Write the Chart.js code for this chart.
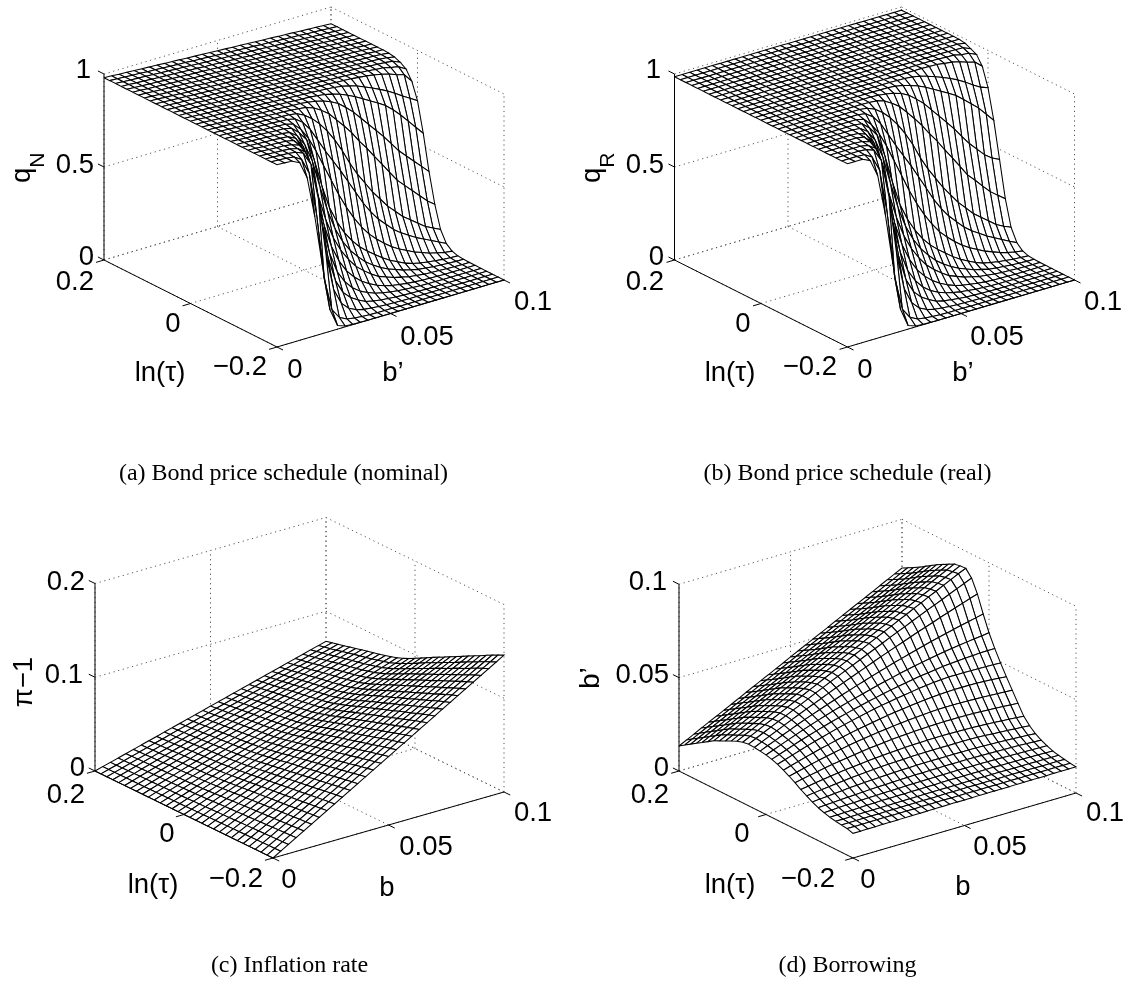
<!DOCTYPE html>
<html>
<head>
<meta charset="utf-8">
<title>Bond price, inflation and borrowing surfaces</title>
<script src="https://cdn.jsdelivr.net/npm/chart.js"></script>
<style>
html, body { margin: 0; padding: 0; background: #fff; }
#page { position: relative; width: 1126px; height: 994px; overflow: hidden; }
canvas { position: absolute; }
.caption { position: absolute; width: 563px; text-align: center; font: 24px "Liberation Serif", serif; color: #000; }
</style>
</head>
<body>
<div id="page">
<canvas id="graphA" width="563" height="497" style="left:0;top:0"></canvas>
<canvas id="graphB" width="563" height="497" style="left:563px;top:0"></canvas>
<canvas id="graphC" width="563" height="497" style="left:0;top:497px"></canvas>
<canvas id="graphD" width="563" height="497" style="left:563px;top:497px"></canvas>
<div class="caption" style="left:2px;top:459px">(a) Bond price schedule (nominal)</div>
<div class="caption" style="left:566px;top:459px">(b) Bond price schedule (real)</div>
<div class="caption" style="left:8px;top:951px">(c) Inflation rate</div>
<div class="caption" style="left:566px;top:951px">(d) Borrowing</div>
</div>
<script>
// axes of every panel
var bGrid = [0,.00333,.00667,.01,.01333,.01667,.02,.02333,.02667,.03,.03333,.03667,.04,.04333,.04667,.05,.05333,.05667,.06,.06333,.06667,.07,.07333,.07667,.08,.08333,.08667,.09,.09333,.09667,.1]
var tauGrid = [.2,.18667,.17333,.16,.14667,.13333,.12,.10667,.09333,.08,.06667,.05333,.04,.02667,.01333,0,-.01333,-.02667,-.04,-.05333,-.06667,-.08,-.09333,-.10667,-.12,-.13333,-.14667,-.16,-.17333,-.18667,-.2]
var bTicks = [0, .05, .1]
var bTickLabels = ['0', '0.05', '0.1']
var tauTicks = [.2, 0, -.2]
var tauTickLabels = ['0.2', '0', '\u22120.2']
var qTicks = [0, .5, 1]
var qTickLabels = ['0', '0.5', '1']
var piTicks = [0, .1, .2]
var piTickLabels = ['0', '0.1', '0.2']
var bpTicks = [0, .05, .1]
var bpTickLabels = ['0', '0.05', '0.1']

// rows run from tau = 0.2 to tau = -0.2, columns from b = 0 to b = 0.1
// q values in thousandths
var qNominalFlat = [980,978,975,973,971,968,966,964,961,959,957,954,952,950,947,945,943,940,938,936,933,931,929,926,924,922,919,917,915,912,910]
var qNominal = [
qNominalFlat,qNominalFlat,qNominalFlat,qNominalFlat,qNominalFlat,qNominalFlat,qNominalFlat,qNominalFlat,qNominalFlat,qNominalFlat,
[980,978,975,973,971,968,966,964,961,959,957,954,952,950,947,945,943,940,938,936,933,931,929,926,924,922,919,917,915,912,908],
[980,978,975,973,971,968,966,964,961,959,957,954,952,950,947,945,943,940,938,936,933,931,929,926,924,922,919,917,915,911,903],
[980,978,975,973,971,968,966,964,961,959,957,954,952,950,947,945,943,940,938,936,933,931,929,926,924,922,918,915,912,907,890],
[980,978,975,973,971,968,966,964,961,959,957,954,952,950,947,945,943,940,938,936,933,931,929,926,923,920,915,912,901,894,870],
[980,978,975,973,971,968,966,964,961,959,957,954,952,950,947,945,943,940,938,936,933,931,928,924,920,913,905,894,878,866,820],
[980,978,975,973,971,968,966,964,961,959,957,954,952,950,947,945,943,940,937,933,928,918,905,888,870,851,830,806,780,755,730],
[980,978,975,973,971,968,966,964,961,959,957,954,952,950,947,945,940,935,925,912,895,875,852,828,805,780,745,705,660,615,570],
[980,978,975,973,971,968,966,964,961,959,957,954,952,950,945,938,928,912,890,857,820,775,730,685,640,590,540,500,460,420,380],
[980,978,975,973,971,968,966,964,961,959,957,954,950,945,930,905,875,830,785,737,680,630,574,520,465,410,370,330,290,250,220],
[980,978,975,973,971,968,966,964,961,959,957,950,930,900,860,810,750,680,600,530,470,410,360,310,270,230,200,170,140,120,100],
[980,978,975,973,971,968,966,964,961,959,950,920,870,800,730,665,600,530,460,390,330,280,240,200,170,145,120,100,80,60,40],
[980,978,975,973,971,968,966,964,961,950,910,850,770,680,590,500,420,350,290,240,200,165,135,110,90,70,55,40,30,20,15],
[980,978,975,973,971,968,966,964,955,920,870,750,600,470,380,310,255,210,175,145,115,90,70,50,36,27,20,15,10,7,5],
[980,978,975,973,971,968,966,960,930,870,770,620,480,370,290,230,185,145,115,90,70,55,40,30,20,15,10,7,5,3,2],
[980,978,975,973,971,968,965,945,890,780,600,460,350,270,210,160,125,95,70,55,40,30,20,15,10,7,5,3,2,1,1],
[980,978,975,973,971,968,960,920,820,640,460,330,240,175,130,95,70,50,35,25,18,12,8,5,3,2,1,1,1,1,1],
[980,978,975,973,971,965,950,885,720,490,320,210,145,100,70,50,35,25,17,12,8,5,3,2,1,0,0,0,0,0,0],
[980,978,975,973,970,960,930,820,570,330,190,115,75,50,30,20,14,10,6,4,2,1,0,0,0,0,0,0,0,0,0],
[980,978,975,973,968,950,880,680,370,170,85,45,25,15,10,6,4,2,1,0,0,0,0,0,0,0,0,0,0,0,0],
[980,978,975,970,945,860,620,270,90,35,15,8,4,2,1,0,0,0,0,0,0,0,0,0,0,0,0,0,0,0,0],
[980,978,975,955,860,640,367,116,20,5,2,1,0,0,0,0,0,0,0,0,0,0,0,0,0,0,0,0,0,0,0]
]

var qRealFlat = [985,985,985,985,985,985,985,985,985,985,985,985,985,985,985,984,984,984,984,984,984,984,984,984,984,983,983,983,983,983,983]
var qReal = [
qRealFlat,qRealFlat,qRealFlat,qRealFlat,qRealFlat,qRealFlat,qRealFlat,qRealFlat,qRealFlat,qRealFlat,
[985,985,985,985,985,985,985,985,985,985,985,985,985,985,985,984,984,984,984,984,984,984,984,984,984,983,983,983,983,983,982],
[985,985,985,985,985,985,985,985,985,985,985,985,985,985,985,984,984,984,984,984,984,984,984,984,984,983,983,983,983,983,977],
[985,985,985,985,985,985,985,985,985,985,985,985,985,985,985,984,984,984,984,984,984,984,984,984,984,983,984,983,981,980,963],
[985,985,985,985,985,985,985,985,985,985,985,985,985,985,985,984,984,984,984,984,984,984,984,984,984,983,981,980,970,966,948],
[985,985,985,985,985,985,985,985,985,985,985,985,985,985,985,984,984,984,984,984,984,984,984,983,981,975,970,960,945,935,900],
[985,985,985,985,985,985,985,985,985,985,985,985,985,985,985,984,984,984,983,981,978,970,958,943,927,909,890,866,839,815,800],
[985,985,985,985,985,985,985,985,985,985,985,985,985,985,985,984,983,980,972,959,945,926,903,881,858,834,800,765,730,685,640],
[985,985,985,985,985,985,985,985,985,985,985,985,985,985,983,977,970,956,935,902,866,820,774,729,682,630,579,537,495,465,445],
[985,985,985,985,985,985,985,985,985,985,985,985,983,980,967,943,914,870,824,775,718,667,608,553,496,438,397,354,312,280,250],
[985,985,985,985,985,985,985,985,985,985,985,980,963,933,894,844,784,713,630,558,496,434,382,330,288,246,214,183,151,130,112],
[985,985,985,985,985,985,985,985,985,985,978,949,900,830,759,693,627,555,483,410,348,296,254,213,181,155,129,107,86,65,45],
[985,985,985,985,985,985,985,985,985,976,936,877,797,705,614,521,439,367,305,252,211,175,143,117,96,75,59,43,32,22,16],
[985,985,985,985,985,985,985,985,979,945,895,774,621,487,395,323,266,220,184,153,121,95,74,53,38,29,21,16,11,8,5],
[985,985,985,985,985,985,985,981,953,893,792,640,497,384,302,240,193,152,121,95,74,58,42,32,21,16,11,8,5,3,2],
[985,985,985,985,985,985,982,966,912,801,617,475,362,280,218,167,131,100,74,58,42,32,21,16,11,7,5,3,2,1,1],
[985,985,985,985,985,985,979,940,841,657,473,341,248,181,135,99,73,52,37,26,19,13,8,5,3,2,1,1,1,1,1],
[985,985,985,985,985,982,969,904,738,503,329,217,150,104,73,52,37,26,18,13,8,5,3,2,1,0,0,0,0,0,0],
[985,985,985,985,984,977,949,838,584,339,196,119,78,52,31,21,15,10,6,4,2,1,0,0,0,0,0,0,0,0,0],
[985,985,985,985,982,967,898,695,379,175,87,46,26,16,10,6,4,2,1,0,0,0,0,0,0,0,0,0,0,0,0],
[985,985,985,982,958,875,632,276,92,36,15,8,4,2,1,0,0,0,0,0,0,0,0,0,0,0,0,0,0,0,0],
[985,985,985,966,872,652,374,119,20,5,2,1,0,0,0,0,0,0,0,0,0,0,0,0,0,0,0,0,0,0,0]
]

// inflation and borrowing in ten-thousandths
var inflation = [
[0,23,45,68,91,113,136,159,181,204,227,249,272,295,317,340,363,385,408,431,453,476,499,521,544,567,589,612,635,657,680],
[0,23,46,70,93,116,139,162,185,209,232,255,278,301,324,348,371,394,417,440,463,487,510,533,556,579,602,626,649,672,695],
[0,24,47,71,95,118,142,166,189,213,237,260,284,308,331,355,379,402,426,450,473,497,521,544,568,592,615,639,663,686,710],
[0,24,48,73,97,121,145,169,193,218,242,266,290,314,338,363,387,411,435,459,483,508,532,556,580,604,628,653,677,701,725],
[0,25,49,74,99,124,148,173,198,223,247,272,297,322,346,371,396,420,445,470,495,519,544,569,594,618,643,668,693,717,742],
[0,25,51,76,101,126,152,177,202,227,253,278,303,328,354,379,404,429,455,480,505,531,556,581,606,632,657,682,707,733,758],
[0,26,52,78,103,129,155,181,207,233,258,284,310,336,362,388,413,439,465,491,517,543,568,594,620,646,672,698,723,749,775],
[0,26,53,79,105,132,158,184,211,237,263,290,316,342,369,395,421,448,474,500,527,553,579,606,632,658,685,711,737,764,790],
[0,27,54,81,107,134,161,188,215,242,268,295,322,349,376,403,429,456,483,510,537,564,590,617,644,671,698,725,751,778,805],
[0,27,55,82,109,137,164,191,219,246,273,301,328,355,383,410,437,465,492,519,547,574,601,629,656,683,711,738,765,793,820],
[0,28,56,84,112,140,168,196,223,251,279,307,335,363,391,419,447,475,503,531,559,587,615,642,670,698,726,754,782,810,838],
[0,29,57,86,114,143,171,200,228,257,285,314,342,371,399,428,456,485,513,542,570,599,627,656,684,713,741,770,798,827,855],
[0,29,58,88,117,146,175,204,233,263,292,321,350,379,408,438,467,496,525,554,583,613,642,671,700,729,758,788,817,846,875],
[0,30,60,90,120,150,180,210,240,270,300,330,360,390,420,450,480,510,540,570,600,630,660,690,720,750,780,810,840,870,900],
[0,31,62,93,124,155,186,217,248,279,310,341,372,403,434,465,496,527,558,589,620,651,682,713,744,775,806,837,868,899,930],
[0,32,64,96,128,160,192,224,257,289,321,353,385,417,449,481,513,545,577,609,641,673,705,737,770,802,834,866,898,930,962],
[0,33,66,100,133,166,199,232,265,299,332,365,398,431,464,498,531,564,597,630,663,697,730,763,796,829,862,896,929,962,995],
[0,34,69,103,137,172,206,240,275,309,343,378,412,446,481,515,549,584,618,652,687,721,755,790,824,858,893,927,961,996,1030],
[0,36,71,107,142,178,213,249,284,320,355,391,426,462,497,533,568,604,639,675,710,746,781,817,852,888,923,959,994,1030,1065],
[0,37,73,110,146,183,220,256,293,329,366,403,439,476,512,549,586,622,659,695,732,769,805,842,878,915,952,988,1025,1061,1098],
[0,38,75,113,151,188,226,264,301,339,377,414,452,490,527,565,603,640,678,716,753,791,829,866,904,942,979,1017,1055,1092,1130],
[0,39,78,117,155,194,233,272,311,350,388,427,466,505,544,583,621,660,699,738,777,816,854,893,932,971,1010,1049,1087,1126,1165],
[0,40,80,120,160,200,240,280,319,359,399,439,479,519,559,599,639,679,719,759,799,839,879,918,958,998,1038,1078,1118,1158,1198],
[0,41,82,123,164,205,246,287,328,369,410,451,492,533,574,615,656,697,738,779,820,861,902,943,984,1025,1066,1107,1148,1189,1230],
[0,42,84,127,169,211,253,295,337,380,422,464,506,548,590,633,675,717,759,801,843,886,928,970,1012,1054,1096,1139,1181,1223,1265],
[0,43,87,130,173,216,260,303,346,389,433,476,519,562,606,649,692,735,779,822,865,909,952,995,1038,1082,1125,1168,1211,1255,1298],
[0,44,89,133,177,222,266,310,355,399,443,488,532,576,621,665,709,754,798,842,887,931,975,1020,1064,1108,1153,1197,1241,1286,1330],
[0,46,91,137,182,228,273,319,364,410,455,501,546,592,637,683,728,774,819,865,910,956,1001,1047,1092,1138,1183,1229,1274,1320,1365],
[0,47,93,140,186,233,280,326,373,419,466,513,559,606,652,699,746,792,839,885,932,979,1025,1072,1118,1165,1212,1258,1305,1351,1398],
[0,48,95,143,191,238,286,334,381,429,477,524,572,620,667,715,763,810,858,906,953,1001,1049,1096,1144,1192,1239,1287,1335,1382,1430],
[0,49,97,146,195,243,292,341,389,438,487,535,584,633,681,730,779,827,876,925,973,1022,1071,1119,1168,1217,1265,1314,1363,1411,1460]
]

var borrowing = [
[134,154,174,195,215,235,255,275,295,316,336,356,376,396,416,437,457,477,497,517,537,558,578,598,618,638,658,679,699,719,739],
[155,175,195,215,235,255,275,295,315,335,355,375,395,415,435,456,476,496,516,536,556,576,596,616,636,656,676,696,716,736,756],
[175,195,215,235,255,275,295,315,334,354,374,394,414,434,454,474,494,514,534,554,574,594,613,633,653,673,693,713,733,753,773],
[195,215,235,254,274,294,314,334,354,374,393,413,433,453,473,493,512,532,552,572,592,612,631,651,671,691,711,730,750,770,790],
[215,235,255,274,294,314,334,354,374,394,413,433,453,473,493,513,532,552,572,592,612,632,651,671,691,711,731,750,770,790,810],
[235,255,275,294,314,334,354,374,394,414,433,453,473,493,513,533,552,572,592,612,632,652,671,691,711,731,751,770,790,810,830],
[255,275,295,314,334,354,374,394,414,434,453,473,493,513,533,553,572,592,612,632,652,672,691,711,731,751,771,790,810,830,850],
[270,290,310,330,350,370,389,409,429,449,469,489,509,529,549,569,588,608,628,648,668,688,708,728,748,768,787,807,827,847,867],
[285,305,325,345,365,385,405,425,445,465,485,504,524,544,564,584,604,624,644,664,684,704,724,744,764,784,803,823,843,863,884],
[300,320,340,360,380,400,420,440,460,480,500,520,540,560,580,600,620,640,660,680,700,720,740,760,780,800,820,840,860,880,900],
[315,335,354,374,394,414,433,453,473,492,512,532,551,571,591,611,630,650,670,689,709,729,748,768,788,808,827,847,867,886,906],
[325,345,364,384,403,423,442,462,481,501,520,540,559,579,598,618,637,657,676,696,715,735,754,774,793,813,832,852,871,891,908],
[330,349,368,387,405,424,443,461,480,499,517,536,554,572,590,608,626,644,662,680,698,715,733,750,768,785,802,820,837,854,871],
[328,346,364,382,400,418,435,452,469,486,503,520,536,552,568,584,600,616,631,646,661,676,691,705,719,734,748,762,775,789,802],
[324,341,357,374,390,407,423,438,453,468,482,497,510,524,537,550,563,575,588,599,611,622,633,644,654,664,674,683,692,701,710],
[319,334,350,365,380,395,409,423,436,449,461,473,484,495,506,517,527,536,546,555,563,571,579,586,593,599,605,610,615,620,625],
[311,325,339,354,368,381,394,406,418,429,440,450,460,470,479,488,496,504,511,518,525,530,536,541,545,548,551,553,555,556,556],
[300,313,326,339,352,364,375,387,398,408,418,427,436,445,453,460,467,473,479,485,490,495,498,500,500,500,499,498,497,496,494],
[284,296,307,319,330,341,350,360,369,378,386,393,400,407,414,420,425,430,435,439,443,446,448,449,449,449,448,446,444,440,436],
[267,277,287,297,306,315,323,331,339,346,352,358,363,368,373,377,381,384,387,390,392,393,393,392,391,390,388,386,384,382,380],
[248,256,264,272,280,287,293,299,305,311,316,320,324,328,331,334,336,338,340,341,342,342,342,341,340,338,336,334,331,328,325],
[227,233,240,246,252,258,263,267,271,275,279,282,285,287,289,291,292,293,294,294,294,293,292,291,289,287,284,281,278,275,271],
[208,213,218,222,227,232,236,239,242,245,248,250,252,253,255,256,256,257,257,257,257,257,256,255,253,250,248,245,242,239,236],
[191,195,198,202,205,209,211,214,216,218,220,222,223,224,225,226,226,226,226,226,226,226,225,224,222,221,219,217,215,212,209],
[176,179,181,184,186,188,190,192,194,195,197,198,199,200,200,201,201,202,202,202,202,201,201,200,199,198,197,196,194,192,190],
[165,167,169,171,172,174,175,176,177,178,179,180,181,181,182,182,183,183,183,183,183,183,182,182,181,180,179,178,177,176,175],
[156,157,158,159,160,162,163,164,164,165,165,166,166,167,167,168,168,168,168,168,168,168,168,167,167,166,166,165,165,164,163],
[150,150,151,151,152,152,153,153,154,154,155,155,155,156,156,156,156,156,157,157,157,157,157,156,156,156,156,156,156,155,155],
[146,146,146,147,147,147,148,148,148,149,149,149,149,149,150,150,150,150,150,150,150,150,150,150,150,150,149,149,149,149,149],
[142,142,142,142,143,143,143,143,143,143,144,144,144,144,144,144,144,144,144,144,144,144,144,144,144,144,144,144,144,144,144],
[132,132,133,133,134,134,134,135,135,135,136,136,136,137,137,137,137,138,138,138,138,138,139,139,139,139,139,140,140,140,140]
]

var panels = [
	{ canvas: 'graphA', left: 0, top: 0, origin: [104, 260], bVec: [227, -67], tauVec: [173, 87], zLen: 186,
		rows: qNominal, unit: 1000, zTicks: qTicks, zLabels: qTickLabels,
		zPos: [[94, 257], [94, 165], [91, 70]], tauPos: [[94, 282], [173, 324], [267, 367]], bPos: [[295, 370], [427, 337], [533, 302]],
		tauTitle: [160, 373], bTitle: ['b\u2019', 393, 373], zTitle: { main: 'q', sub: 'N', x: 30, y: 183 } },
	{ canvas: 'graphB', left: 563, top: 0, origin: [674.5, 260], bVec: [227, -67], tauVec: [173, 87], zLen: 186,
		rows: qReal, unit: 1000, zTicks: qTicks, zLabels: qTickLabels,
		zPos: [[664, 257], [664, 165], [661, 70]], tauPos: [[664, 282], [743, 324], [837, 367]], bPos: [[865, 370], [997, 337], [1103, 302]],
		tauTitle: [730, 373], bTitle: ['b\u2019', 963, 373], zTitle: { main: 'q', sub: 'R', x: 600, y: 183 } },
	{ canvas: 'graphC', left: 0, top: 497, origin: [95, 771], bVec: [231, -66], tauVec: [178, 87], zLen: 187.5,
		rows: inflation, unit: 10000, zTicks: piTicks, zLabels: piTickLabels,
		zPos: [[85, 768], [83, 675], [85, 582]], tauPos: [[85, 795], [167, 834], [263, 879]], bPos: [[289, 880], [426, 847], [533, 813]],
		tauTitle: [153, 885], bTitle: ['b', 387, 888], zTitle: { main: '\u03c0\u22121', x: 23, y: 682 } },
	{ canvas: 'graphD', left: 563, top: 497, origin: [679, 771], bVec: [223, -65], tauVec: [174, 87], zLen: 186.7,
		rows: borrowing, unit: 10000, zTicks: bpTicks, zLabels: bpTickLabels,
		zPos: [[669, 768], [669, 675], [667, 582]], tauPos: [[669, 795], [742, 834], [835, 879]], bPos: [[868, 880], [1000, 847], [1105, 813]],
		tauTitle: [730, 885], bTitle: ['b', 963, 887], zTitle: { main: 'b\u2019', x: 590, y: 678 } }
]

var bMax = bTicks[bTicks.length - 1]
var tauFirst = tauTicks[0]
var tauLast = tauTicks[tauTicks.length - 1]

function project(panel, b, tau, z) {
	var f = b / bMax
	var t = (tauFirst - tau) / (tauFirst - tauLast)
	var zTop = panel.zTicks[panel.zTicks.length - 1]
	return {
		x: panel.origin[0] + panel.bVec[0] * f + panel.tauVec[0] * t,
		y: panel.origin[1] + panel.bVec[1] * f + panel.tauVec[1] * t - panel.zLen * z / zTop
	}
}

function lineSet(points, color, dash) {
	return {
		data: points, showLine: true, pointRadius: 0, fill: false, clip: false,
		borderColor: color, borderWidth: 1, borderDash: dash || []
	}
}

function buildDatasets(panel) {
	var sets = []
	var zTop = panel.zTicks[panel.zTicks.length - 1]
	function dotted(a, b) {
		sets.push(lineSet([project(panel, a[0], a[1], a[2]), project(panel, b[0], b[1], b[2])], '#555', [1.2, 3.6]))
	}
	function solid(a, b) {
		sets.push(lineSet([project(panel, a[0], a[1], a[2]), project(panel, b[0], b[1], b[2])], '#000'))
	}
	// back walls and floor
	bTicks.forEach(function (b) {
		dotted([b, tauFirst, 0], [b, tauLast, 0])
		dotted([b, tauFirst, 0], [b, tauFirst, zTop])
	})
	tauTicks.forEach(function (tau) {
		dotted([0, tau, 0], [bMax, tau, 0])
		dotted([bMax, tau, 0], [bMax, tau, zTop])
	})
	panel.zTicks.forEach(function (z) {
		dotted([0, tauFirst, z], [bMax, tauFirst, z])
		dotted([bMax, tauFirst, z], [bMax, tauLast, z])
	})
	// surface, far cells first
	for (var m = 0; m < tauGrid.length - 1; m++) {
		for (var j = bGrid.length - 2; j >= 0; j--) {
			var corners = [[m, j], [m, j + 1], [m + 1, j + 1], [m + 1, j], [m, j]]
			sets.push({
				data: corners.map(function (c) {
					return project(panel, bGrid[c[1]], tauGrid[c[0]], panel.rows[c[0]][c[1]] / panel.unit)
				}),
				showLine: true, pointRadius: 0, clip: false, fill: 'shape',
				backgroundColor: '#fff', borderColor: '#000', borderWidth: 1.05
			})
		}
	}
	// axis lines and ticks
	var tickB = bMax * 0.035
	var tickTau = (tauFirst - tauLast) * 0.035
	solid([0, tauFirst, 0], [0, tauFirst, zTop])
	solid([0, tauFirst, 0], [0, tauLast, 0])
	solid([0, tauLast, 0], [bMax, tauLast, 0])
	panel.zTicks.forEach(function (z) {
		solid([0, tauFirst, z], [0, tauFirst + tickTau, z])
	})
	tauTicks.forEach(function (tau) {
		solid([0, tau, 0], [-tickB, tau, 0])
	})
	bTicks.forEach(function (b) {
		solid([b, tauLast, 0], [b, tauLast - tickTau, 0])
	})
	// Chart.js paints the first dataset last
	return sets.reverse()
}

function textPlugin(panel) {
	return {
		id: 'panelText',
		afterDraw: function (chart) {
			var ctx = chart.ctx
			var font = '27.5px "Liberation Sans", Arial, sans-serif'
			function put(text, x, y, align) {
				ctx.font = font
				ctx.textAlign = align
				ctx.textBaseline = 'middle'
				ctx.fillText(text, x - panel.left, y - panel.top)
			}
			ctx.save()
			ctx.fillStyle = '#000'
			panel.zLabels.forEach(function (label, i) {
				put(label, panel.zPos[i][0], panel.zPos[i][1], 'right')
			})
			tauTickLabels.forEach(function (label, i) {
				put(label, panel.tauPos[i][0], panel.tauPos[i][1], i == 0 ? 'right' : i == 1 ? 'center' : 'right')
			})
			bTickLabels.forEach(function (label, i) {
				put(label, panel.bPos[i][0], panel.bPos[i][1], 'center')
			})
			put('ln(\u03c4)', panel.tauTitle[0], panel.tauTitle[1], 'center')
			put(panel.bTitle[0], panel.bTitle[1], panel.bTitle[2], 'center')
			// rotated title of the vertical axis
			var title = panel.zTitle
			ctx.translate(title.x - panel.left, title.y - panel.top)
			ctx.rotate(-Math.PI / 2)
			ctx.font = font
			ctx.textBaseline = 'alphabetic'
			if (title.sub) {
				ctx.textAlign = 'left'
				ctx.fillText(title.main, 0, 0)
				var w = ctx.measureText(title.main).width
				ctx.font = '21px "Liberation Sans", Arial, sans-serif'
				ctx.fillText(title.sub, w, 14)
			} else {
				ctx.textAlign = 'center'
				ctx.fillText(title.main, 0, 9)
			}
			ctx.restore()
		}
	}
}

panels.forEach(function (panel) {
	var canvas = document.getElementById(panel.canvas)
	new Chart(canvas.getContext('2d'), {
		type: 'scatter',
		data: { datasets: buildDatasets(panel) },
		options: {
			responsive: false,
			animation: false,
			parsing: false,
			events: [],
			layout: { padding: 0 },
			plugins: { legend: { display: false }, tooltip: { enabled: false } },
			scales: {
				x: { type: 'linear', display: false, min: panel.left, max: panel.left + canvas.width },
				y: { type: 'linear', display: false, reverse: true, min: panel.top, max: panel.top + canvas.height }
			}
		},
		plugins: [textPlugin(panel)]
	})
})
</script>
</body>
</html>
